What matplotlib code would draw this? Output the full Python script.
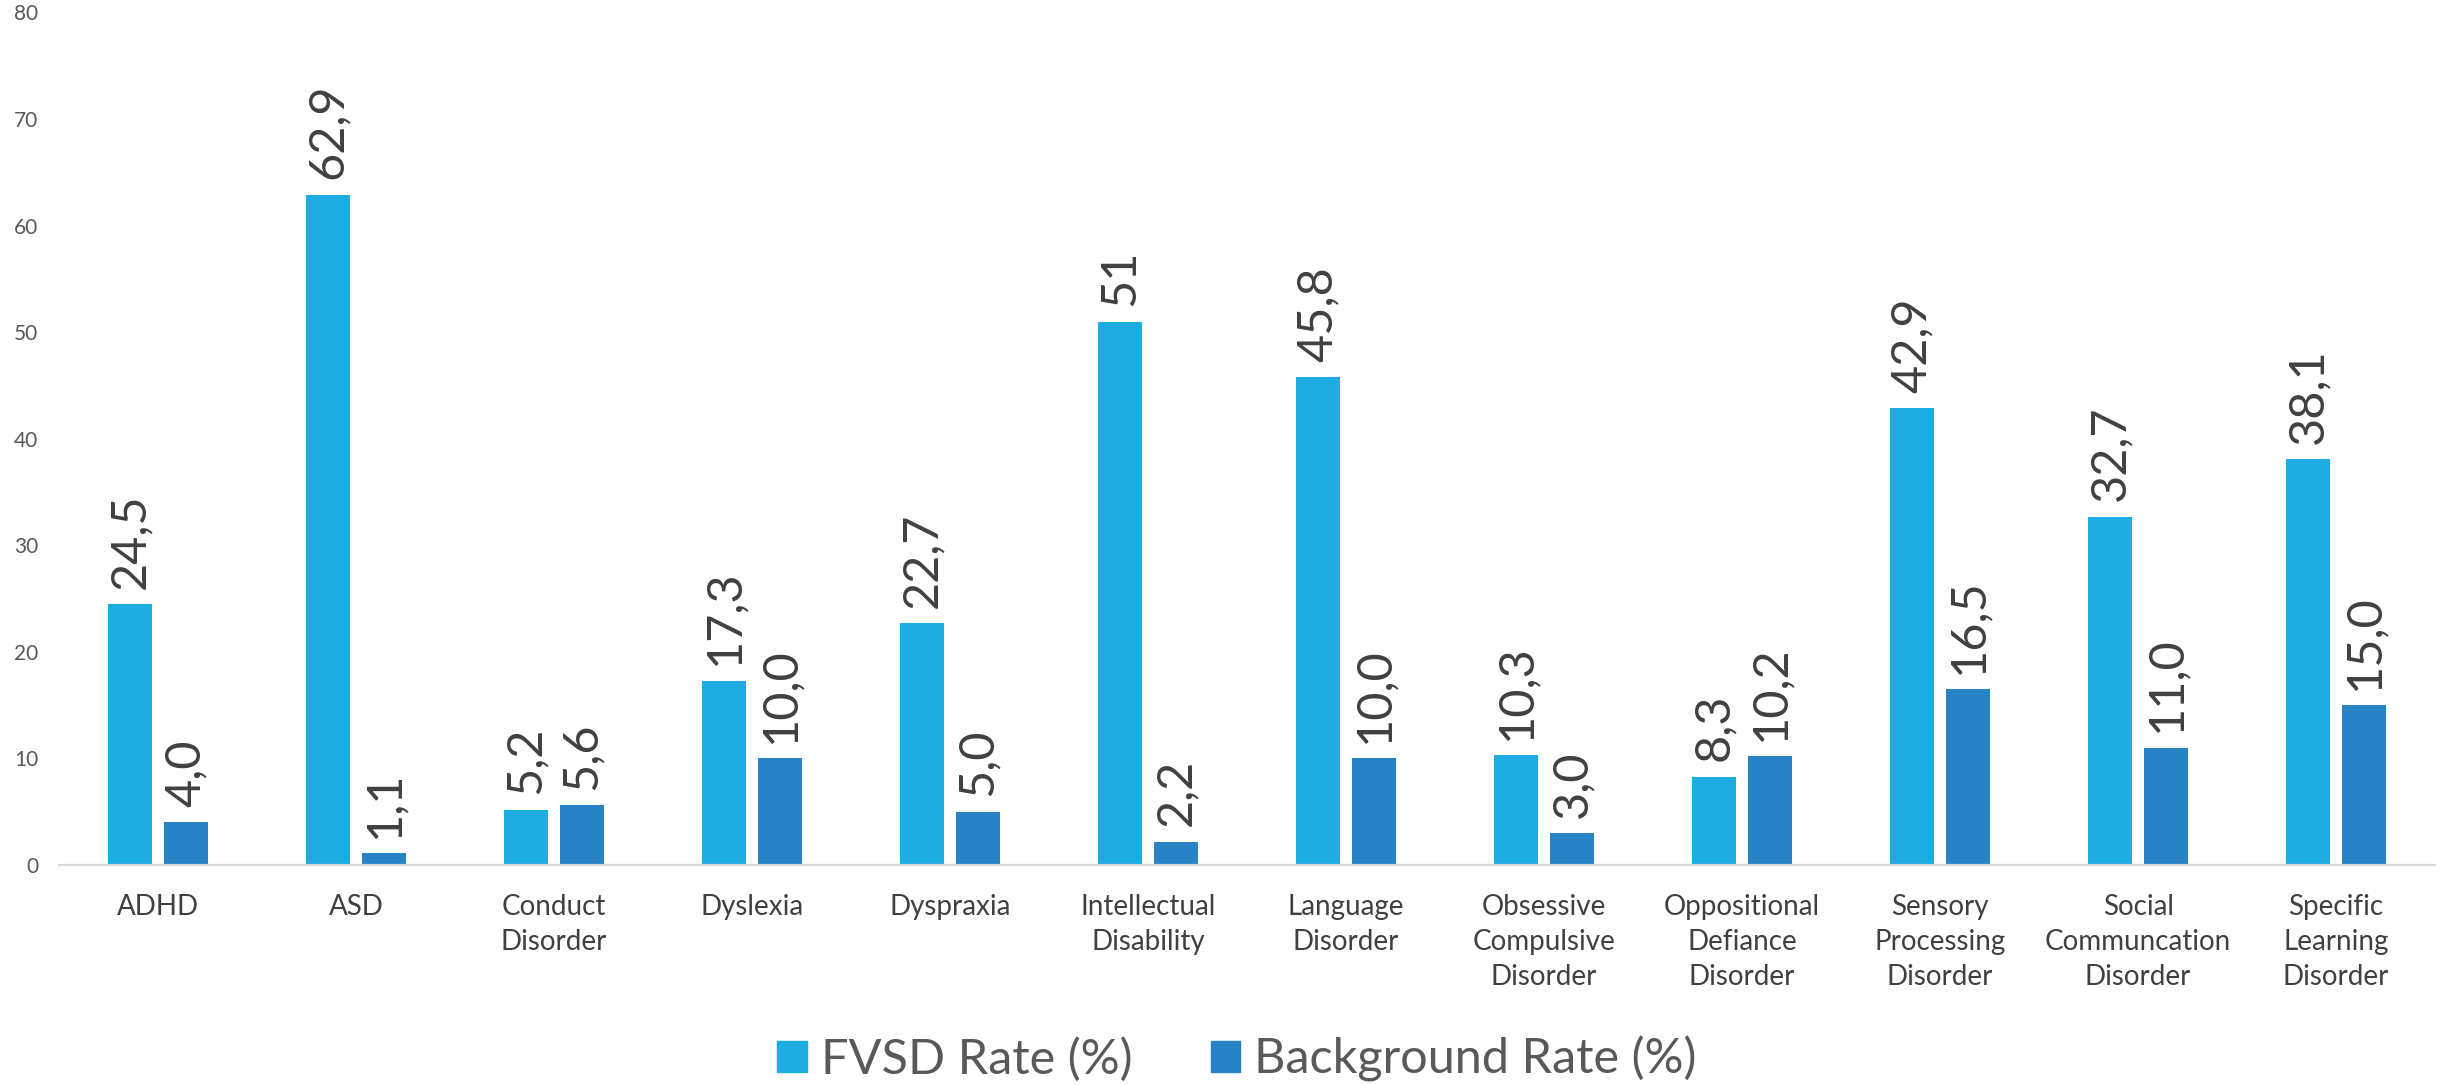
import numpy as np
import matplotlib.pyplot as plt
from matplotlib.patches import Patch

plt.rcParams['font.family'] = ['Lato', 'DejaVu Sans']

# categories and rates (%)
categories = [
    "ADHD", "ASD", "Conduct\nDisorder", "Dyslexia", "Dyspraxia",
    "Intellectual\nDisability", "Language\nDisorder",
    "Obsessive\nCompulsive\nDisorder", "Oppositional\nDefiance\nDisorder",
    "Sensory\nProcessing\nDisorder", "Social\nCommuncation\nDisorder",
    "Specific\nLearning\nDisorder",
]
fvsd_rate = [24.5, 62.9, 5.2, 17.3, 22.7, 51, 45.8, 10.3, 8.3, 42.9, 32.7, 38.1]
background_rate = [4.0, 1.1, 5.6, 10.0, 5.0, 2.2, 10.0, 3.0, 10.2, 16.5, 11.0, 15.0]
series_names = ["FVSD Rate (%)", "Background Rate (%)"]
y_ticks = [0, 10, 20, 30, 40, 50, 60, 70, 80]

light_blue = "#1EADE2"
dark_blue = "#2782C6"
text_gray = "#404040"
tick_gray = "#595959"


def fmt(v):
    # decimal comma; whole numbers are shown without decimals
    if isinstance(v, int):
        return str(v)
    return f"{v:.1f}".replace(".", ",")


fig = plt.figure(figsize=(24.4, 10.85), dpi=100)
ax = fig.add_axes([0.0242, 0.2028, 0.9738, 0.7857])

x = np.arange(len(categories))
w = 0.222
off = 0.141
b1 = ax.bar(x - off, fvsd_rate, w, color=light_blue)
b2 = ax.bar(x + off, background_rate, w, color=dark_blue)

for bars, vals in ((b1, fvsd_rate), (b2, background_rate)):
    ax.bar_label(bars, labels=[fmt(v) for v in vals], rotation=90,
                 padding=11, fontsize=35, color=text_gray)

ax.set_xlim(-0.5, len(categories) - 0.5)
ax.set_ylim(0, 80)
ax.set_yticks(y_ticks)
ax.set_xticks(x)
ax.set_xticklabels(categories, fontsize=20, color=text_gray, linespacing=1.42)
ax.tick_params(axis='x', length=0, pad=21)
ax.tick_params(axis='y', length=0, pad=15, labelsize=15, labelcolor=tick_gray)

for s in ('top', 'right', 'left'):
    ax.spines[s].set_visible(False)
ax.spines['bottom'].set_color("#D9D9D9")
ax.spines['bottom'].set_linewidth(1.6)

handles = [Patch(color=light_blue), Patch(color=dark_blue)]
fig.legend(handles, series_names, loc='center', bbox_to_anchor=(0.507, 0.024),
           ncol=2, frameon=False, fontsize=35, handlelength=0.6,
           handleheight=0.6, handletextpad=0.3, columnspacing=1.6,
           labelcolor=tick_gray)

fig.savefig("out.png", dpi=100)
